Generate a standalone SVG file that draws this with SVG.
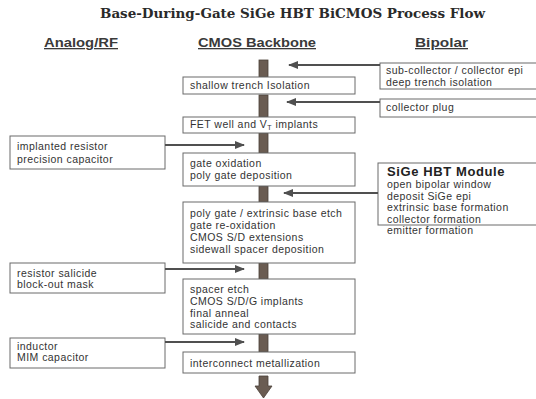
<svg xmlns="http://www.w3.org/2000/svg" width="536" height="399" viewBox="0 0 536 399">
<defs>
<style>
.box{fill:#fff;stroke:#6a6a6a;stroke-width:1}
.bar{fill:#6a5c52;stroke:#4a4038;stroke-width:0.8}
.t{font-family:"Liberation Sans",Arial,sans-serif;font-size:10.5px;letter-spacing:0.45px;fill:#333}
.h{font-family:"Liberation Sans",Arial,sans-serif;font-size:13px;font-weight:bold;fill:#3a3a3a;text-decoration:underline}
.title{font-family:"DejaVu Serif","Liberation Serif",serif;font-size:12px;font-weight:bold;fill:#2a2a2a}
.mod{font-family:"Liberation Sans",Arial,sans-serif;font-size:13px;letter-spacing:0.6px;font-weight:bold;fill:#222}
.c{stroke:#505050;stroke-width:2;fill:none;marker-end:url(#ah)}
</style>
<marker id="ah" viewBox="0 0 10 10" refX="9" refY="5" markerWidth="5" markerHeight="5" orient="auto" markerUnits="strokeWidth">
<path d="M0,1 L10,5 L0,9 z" fill="#505050"/>
</marker>
</defs>
<rect width="536" height="399" fill="#fff"/>
<text class="title" x="100" y="18" textLength="385" lengthAdjust="spacingAndGlyphs">Base-During-Gate SiGe HBT BiCMOS Process Flow</text>
<text class="h" x="44" y="47" textLength="74" lengthAdjust="spacingAndGlyphs">Analog/RF</text>
<text class="h" x="198" y="47" textLength="118" lengthAdjust="spacingAndGlyphs">CMOS Backbone</text>
<text class="h" x="415" y="47" textLength="53" lengthAdjust="spacingAndGlyphs">Bipolar</text>

<g id="backbone-bars">
<rect class="bar" x="259" y="60" width="9" height="17"/>
<rect class="bar" x="259" y="95" width="9" height="22"/>
<rect class="bar" x="259" y="133" width="9" height="20"/>
<rect class="bar" x="259" y="186" width="9" height="16"/>
<rect class="bar" x="259" y="263" width="9" height="16"/>
<rect class="bar" x="259" y="334" width="9" height="18"/>
<path d="M259,376 L268,376 L268,386 L272,386 L263.5,398 L255,386 L259,386 z" fill="#6a5c52" stroke="#4a4038" stroke-width="0.8"/>
</g>

<g id="sti">
<rect class="box" x="183" y="77" width="172" height="17"/>
<text class="t" x="190" y="89">shallow trench Isolation</text>
</g>
<g id="fet-well">
<rect class="box" x="183" y="117" width="172" height="16"/>
<text class="t" x="190" y="128">FET well and V<tspan font-size="7" dy="2">T</tspan><tspan dy="-2"> implants</tspan></text>
</g>
<g id="gate-ox">
<rect class="box" x="183" y="153" width="172" height="33"/>
<text class="t" x="190" y="167">gate oxidation</text>
<text class="t" x="190" y="179">poly gate deposition</text>
</g>
<g id="poly-etch">
<rect class="box" x="183" y="202" width="172" height="61"/>
<text class="t" x="190" y="217">poly gate / extrinsic base etch</text>
<text class="t" x="190" y="229">gate re-oxidation</text>
<text class="t" x="190" y="241">CMOS S/D extensions</text>
<text class="t" x="190" y="253">sidewall spacer deposition</text>
</g>
<g id="spacer-etch">
<rect class="box" x="183" y="279" width="172" height="55"/>
<text class="t" x="190" y="293">spacer etch</text>
<text class="t" x="190" y="305">CMOS S/D/G implants</text>
<text class="t" x="190" y="317">final anneal</text>
<text class="t" x="190" y="328">salicide and contacts</text>
</g>
<g id="interconnect">
<rect class="box" x="183" y="352" width="172" height="21"/>
<text class="t" x="190" y="367">interconnect metallization</text>
</g>

<g id="subcollector">
<rect class="box" x="380" y="63" width="160" height="26"/>
<text class="t" x="386" y="74">sub-collector / collector epi</text>
<text class="t" x="386" y="86">deep trench isolation</text>
</g>
<g id="collector-plug">
<rect class="box" x="380" y="99" width="160" height="18"/>
<text class="t" x="386" y="111">collector plug</text>
</g>
<g id="sige-module">
<rect class="box" x="378" y="163" width="162" height="62"/>
<text class="mod" x="387" y="176">SiGe HBT Module</text>
<text class="t" x="387" y="188">open bipolar window</text>
<text class="t" x="387" y="199.5">deposit SiGe epi</text>
<text class="t" x="387" y="211">extrinsic base formation</text>
<text class="t" x="387" y="222.5">collector formation</text>
<text class="t" x="387" y="234">emitter formation</text>
</g>

<g id="implanted-resistor">
<rect class="box" x="10" y="136" width="155" height="33"/>
<text class="t" x="17" y="150">implanted resistor</text>
<text class="t" x="17" y="163">precision capacitor</text>
</g>
<g id="resistor-salicide">
<rect class="box" x="10" y="263" width="155" height="30"/>
<text class="t" x="17" y="277">resistor salicide</text>
<text class="t" x="17" y="288">block-out mask</text>
</g>
<g id="inductor">
<rect class="box" x="10" y="338" width="155" height="30"/>
<text class="t" x="17" y="350">inductor</text>
<text class="t" x="17" y="361">MIM capacitor</text>
</g>

<g id="connectors">
<line class="c" x1="380" y1="65" x2="289" y2="65"/>
<line class="c" x1="380" y1="102" x2="287" y2="102"/>
<line class="c" x1="378" y1="193" x2="284" y2="193"/>
<line class="c" x1="165" y1="145" x2="244" y2="145"/>
<line class="c" x1="165" y1="269" x2="244" y2="269"/>
<line class="c" x1="165" y1="342" x2="244" y2="342"/>
</g>
</svg>
